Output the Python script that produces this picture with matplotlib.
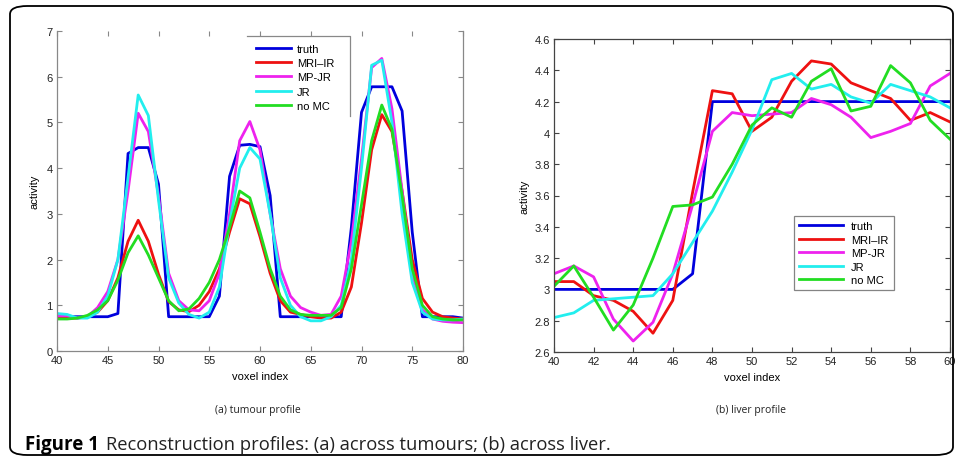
import numpy as np
import matplotlib
matplotlib.use("Agg")
import matplotlib.pyplot as plt
from matplotlib.patches import FancyBboxPatch
from matplotlib.lines import Line2D

plt.rcParams['font.family'] = ['Liberation Sans', 'DejaVu Sans']

# ---- data ----
series_names = ['truth', 'MRI\u2013IR', 'MP-JR', 'JR', 'no MC']
series_colors = ['#0000dd', '#ee1111', '#ee22ee', '#22eeee', '#22dd22']

# (a) tumour profile, voxel 40..80
tumour_x = np.arange(40, 81)
tumour_truth = [0.75, 0.75, 0.75, 0.75, 0.75, 0.75, 0.82, 4.32, 4.45, 4.45,
                3.65, 0.75, 0.75, 0.75, 0.75, 0.75, 1.2, 3.82, 4.5, 4.52,
                4.47, 3.4, 0.75, 0.75, 0.75, 0.75, 0.75, 0.75, 0.75, 2.7,
                5.22, 5.78, 5.78, 5.78, 5.25, 2.6, 0.75, 0.75, 0.75, 0.75, 0.72]
tumour_mri_ir = [0.72, 0.72, 0.72, 0.75, 0.85, 1.1, 1.6, 2.4, 2.86, 2.4,
                 1.68, 1.08, 0.9, 0.86, 1.0, 1.3, 1.8, 2.6, 3.33, 3.22,
                 2.5, 1.7, 1.1, 0.85, 0.8, 0.75, 0.72, 0.72, 0.85, 1.4,
                 2.8, 4.4, 5.17, 4.8, 3.5, 2.0, 1.15, 0.85, 0.75, 0.72, 0.7]
tumour_mp_jr = [0.77, 0.77, 0.72, 0.75, 0.95, 1.3, 2.0, 3.5, 5.2, 4.8,
                3.4, 1.7, 1.1, 0.9, 0.88, 1.1, 1.7, 3.0, 4.6, 5.02,
                4.4, 3.0, 1.8, 1.2, 0.95, 0.85, 0.78, 0.8, 1.2, 2.4,
                4.2, 6.2, 6.4, 5.3, 3.5, 1.7, 0.9, 0.7, 0.65, 0.63, 0.62]
tumour_jr = [0.82, 0.8, 0.72, 0.72, 0.85, 1.2, 2.0, 3.8, 5.6, 5.15,
             3.3, 1.6, 1.05, 0.8, 0.72, 0.85, 1.4, 2.8, 4.0, 4.45,
             4.2, 3.0, 1.6, 1.0, 0.75, 0.66, 0.66, 0.75, 1.0, 2.0,
             4.0, 6.25, 6.36, 5.0, 3.0, 1.5, 0.85, 0.7, 0.68, 0.68, 0.7]
tumour_no_mc = [0.7, 0.7, 0.72, 0.78, 0.9, 1.1, 1.55, 2.15, 2.52, 2.1,
                1.6, 1.1, 0.88, 0.92, 1.15, 1.5, 2.0, 2.7, 3.5, 3.35,
                2.6, 1.8, 1.2, 0.9, 0.8, 0.78, 0.78, 0.78, 0.95, 1.8,
                3.2, 4.6, 5.38, 4.85, 3.4, 1.8, 1.0, 0.75, 0.7, 0.68, 0.68]

# (b) liver profile, voxel 40..60
liver_x = np.arange(40, 61)
liver_truth = [3.0, 3.0, 3.0, 3.0, 3.0, 3.0, 3.0, 3.1, 4.2, 4.2,
               4.2, 4.2, 4.2, 4.2, 4.2, 4.2, 4.2, 4.2, 4.2, 4.2, 4.2]
liver_mri_ir = [3.05, 3.05, 2.96, 2.93, 2.86, 2.72, 2.93, 3.62, 4.27, 4.25,
                4.01, 4.1, 4.33, 4.46, 4.44, 4.32, 4.27, 4.22, 4.08, 4.13, 4.07]
liver_mp_jr = [3.1, 3.15, 3.08, 2.81, 2.67, 2.79, 3.1, 3.54, 4.01, 4.13,
               4.11, 4.12, 4.13, 4.22, 4.18, 4.1, 3.97, 4.01, 4.06, 4.3, 4.38]
liver_jr = [2.82, 2.85, 2.93, 2.94, 2.95, 2.96, 3.1, 3.3, 3.5, 3.75,
            4.02, 4.34, 4.38, 4.28, 4.31, 4.23, 4.19, 4.31, 4.27, 4.23, 4.16]
liver_no_mc = [3.02, 3.15, 2.95, 2.74, 2.9, 3.2, 3.53, 3.54, 3.59, 3.8,
               4.05, 4.16, 4.1, 4.33, 4.41, 4.14, 4.17, 4.43, 4.32, 4.08, 3.96]

tumour_series = [tumour_truth, tumour_mri_ir, tumour_mp_jr, tumour_jr, tumour_no_mc]
liver_series = [liver_truth, liver_mri_ir, liver_mp_jr, liver_jr, liver_no_mc]

W, H = 958, 460
fig = plt.figure(figsize=(W / 100, H / 100), dpi=100)
FS = 8


def px_axes(l, t, r, b):
    return fig.add_axes([l / W, 1 - b / H, (r - l) / W, (b - t) / H])


def style(ax, spine_col):
    for s in ax.spines.values():
        s.set_color(spine_col)
        s.set_linewidth(0.9)
    ax.tick_params(direction='in', length=3.5, width=0.8, color=spine_col,
                   labelsize=FS, labelcolor='#222222', top=True, right=True, pad=3)


# ---- left panel ----
ax1 = px_axes(57, 32, 463, 352)
for ys, c in zip(tumour_series, series_colors):
    ax1.plot(tumour_x, ys, color=c, lw=2.0)
ax1.set_xlim(40, 80)
ax1.set_ylim(0, 7)
ax1.set_xticks(np.arange(40, 81, 5))
ax1.set_yticks(np.arange(0, 8, 1))
style(ax1, '#888888')
ax1.spines['top'].set_visible(False)
ax1.set_xlabel('voxel index', fontsize=FS, va='center')
ax1.xaxis.set_label_coords(0.5, (352 - 377) / 320)
ax1.set_ylabel('activity', fontsize=FS, va='center')
ax1.yaxis.set_label_coords((35 - 57) / 406, 0.5)

handles = [Line2D([], [], color=c, lw=2.0) for c in series_colors]
ax1.legend(handles, series_names, loc='upper left',
           bbox_to_anchor=((247 - 57) / 406, 1 - (36 - 32) / 320),
           frameon=False, fontsize=FS, handlelength=3.2, handletextpad=0.5,
           labelspacing=0.38, borderpad=0.3)
# partial legend frame (only top and right edges show in the reference)
ax1.add_line(Line2D([(247 - 57) / 406, (350 - 57) / 406, (350 - 57) / 406],
                    [1 - (37 - 32) / 320, 1 - (37 - 32) / 320, 1 - (117 - 32) / 320],
                    transform=ax1.transAxes, color='#888888', lw=0.9, clip_on=False))

# ---- right panel ----
ax2 = px_axes(554, 40, 950, 353)
for ys, c in zip(liver_series, series_colors):
    ax2.plot(liver_x, ys, color=c, lw=2.0)
ax2.set_xlim(40, 60)
ax2.set_ylim(2.6, 4.6)
ax2.set_xticks(np.arange(40, 61, 2))
ax2.set_yticks(np.round(np.arange(2.6, 4.61, 0.2), 1))
ax2.set_yticklabels(['2.6', '2.8', '3', '3.2', '3.4', '3.6', '3.8', '4', '4.2', '4.4', '4.6'])
style(ax2, '#444444')
ax2.set_xlabel('voxel index', fontsize=FS, va='center')
ax2.xaxis.set_label_coords(0.5, (353 - 378) / 313)
ax2.set_ylabel('activity', fontsize=FS, va='center')
ax2.yaxis.set_label_coords((524 - 554) / 396, 0.5)

leg = ax2.legend(handles, series_names, loc='upper left',
                 bbox_to_anchor=((794 - 554) / 396, 1 - (217 - 40) / 313),
                 fontsize=FS, handlelength=4.0, handletextpad=0.7,
                 labelspacing=0.32, borderpad=0.45, borderaxespad=0,
                 fancybox=False)
leg.get_frame().set_edgecolor('#666666')
leg.get_frame().set_linewidth(0.9)

# ---- captions ----
cap_font = ['Open Sans', 'DejaVu Sans']
fig.text(258 / W, 1 - 411 / H, '(a) tumour profile', fontsize=7.5,
         family=cap_font, ha='center', va='center', color='#222222')
fig.text(751 / W, 1 - 411 / H, '(b) liver profile', fontsize=7.5,
         family=cap_font, ha='center', va='center', color='#222222')
t = fig.text(25 / W, 1 - 450 / H, 'Figure 1', fontsize=13.5, fontweight='bold',
             family=cap_font, ha='left', va='baseline')
fig.canvas.draw()
bb = t.get_window_extent()
fig.text(bb.x1 / W + 7 / W, 1 - 450 / H,
         'Reconstruction profiles: (a) across tumours; (b) across liver.',
         fontsize=13.2, family=cap_font, ha='left', va='baseline',
         color='#222222')

# rounded border around the whole figure
fig.patches.append(FancyBboxPatch((10 / W, 4 / H), (953 - 10) / W, (453 - 4) / H,
                                  boxstyle='round,pad=0,rounding_size=0.018',
                                  transform=fig.transFigure, fill=False,
                                  edgecolor='black', lw=1.3))

fig.savefig('out.png', dpi=100)
